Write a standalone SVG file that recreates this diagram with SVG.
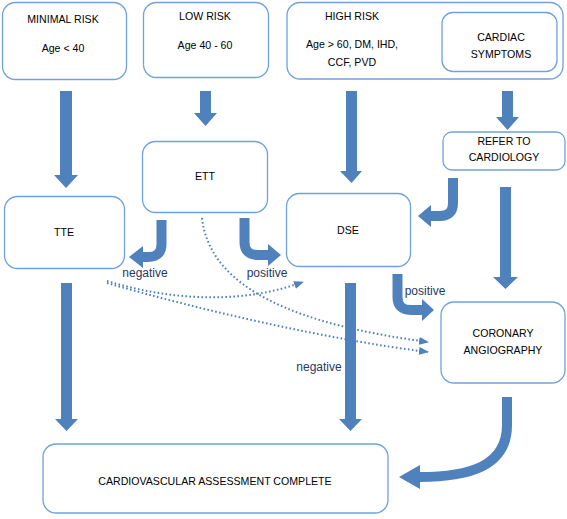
<svg xmlns="http://www.w3.org/2000/svg" width="567" height="519" viewBox="0 0 567 519">
<defs>
<style>
.box{fill:#ffffff;stroke:#6fa2dc;stroke-width:1.3}
.t{font-family:"Liberation Sans",Arial,sans-serif;font-size:10.6px;fill:#000;text-anchor:middle}
.lbl{font-family:"Liberation Sans",Arial,sans-serif;font-size:12px;fill:#1f3864;text-anchor:middle}
.arr{fill:#4f81bd}
.bend{fill:none;stroke:#4f81bd;stroke-width:10}
.dot{fill:none;stroke:#4f81bd;stroke-width:2;stroke-dasharray:1.6 2.4;marker-end:url(#ah)}
</style>
<marker id="ah" markerUnits="userSpaceOnUse" markerWidth="10" markerHeight="8" refX="9" refY="4" orient="auto">
<path d="M0,0 L10,4 L0,8 z" fill="#4f81bd"/>
</marker>
</defs>
<rect width="567" height="519" fill="#ffffff"/>

<g id="connectors">
<polygon class="arr" points="60,91 72,91 72,175 78,175 66,188 54,175 60,175"/>
<polygon class="arr" points="200,91 211,91 211,113 217,113 205.5,126 194,113 200,113"/>
<polygon class="arr" points="346,91 357,91 357,171 362,171 351.5,183 340,171 346,171"/>
<polygon class="arr" points="502,91 513,91 513,117 519,117 507.5,130 496,117 502,117"/>
<polygon class="arr" points="500,187 511,187 511,277 518,277 505.5,289 493,277 500,277"/>
<polygon class="arr" points="61,283 72,283 72,419 78,419 66.5,431 55,419 61,419"/>
<polygon class="arr" points="345,283 356,283 356,419 362,419 350.5,431 339,419 345,419"/>

<path class="bend" d="M161.5,220 L161.5,244 Q161.5,257 148,257 L143,257"/>
<polygon class="arr" points="143,246 129,257 143,268"/>
<path class="bend" d="M244.5,218 L244.5,242 Q244.5,255 258,255 L269,255"/>
<polygon class="arr" points="268,244 281,255 268,266"/>
<path class="bend" d="M453,178 L453,203 Q453,216 440,216 L431,216"/>
<polygon class="arr" points="431,205 418,216 431,227"/>
<path class="bend" d="M397.5,274 L397.5,297 Q397.5,310 411,310 L422,310"/>
<polygon class="arr" points="422,299 434,310 422,321"/>
<path class="bend" d="M507,397 L507,425 C507,466 470,477 419,477"/>
<polygon class="arr" points="420,465 399,477 420,489"/>

<path class="dot" d="M107,281 C170,300 240,305 303,282"/>
<path class="dot" d="M107,283 C200,310 330,340 428,352"/>
<path class="dot" d="M202,218 C210,290 300,325 428,342"/>

<text class="lbl" x="145" y="277">negative</text>
<text class="lbl" x="267" y="277">positive</text>
<text class="lbl" x="425" y="295">positive</text>
<text class="lbl" x="319" y="371">negative</text>
</g>

<g id="minimal">
<rect class="box" x="2.5" y="2.5" width="124" height="77" rx="13"/>
<text class="t" x="63" y="23">MINIMAL RISK</text>
<text class="t" x="63" y="52">Age &lt; 40</text>
</g>
<g id="low">
<rect class="box" x="143.5" y="2.5" width="125" height="75" rx="13"/>
<text class="t" x="205" y="20">LOW RISK</text>
<text class="t" x="205" y="49">Age 40 - 60</text>
</g>
<g id="high">
<rect class="box" x="287" y="2.5" width="276" height="76.5" rx="13"/>
<text class="t" x="352" y="20">HIGH RISK</text>
<text class="t" x="352" y="48">Age &gt; 60, DM, IHD,</text>
<text class="t" x="352" y="66">CCF, PVD</text>
</g>
<g id="cardiac">
<rect class="box" x="442" y="12.5" width="115" height="59" rx="11"/>
<text class="t" x="501" y="41">CARDIAC</text>
<text class="t" x="501" y="58">SYMPTOMS</text>
</g>
<g id="ett">
<rect class="box" x="142.5" y="141.5" width="125" height="71" rx="13"/>
<text class="t" x="205" y="180">ETT</text>
</g>
<g id="tte">
<rect class="box" x="4.5" y="196.5" width="120" height="72" rx="13"/>
<text class="t" x="64" y="236">TTE</text>
</g>
<g id="dse">
<rect class="box" x="286.5" y="193.5" width="124" height="73" rx="13"/>
<text class="t" x="348" y="234">DSE</text>
</g>
<g id="refer">
<rect class="box" x="443" y="132" width="122" height="38" rx="9"/>
<text class="t" x="504" y="145">REFER TO</text>
<text class="t" x="504" y="161">CARDIOLOGY</text>
</g>
<g id="coronary">
<rect class="box" x="441" y="302" width="124" height="81" rx="13"/>
<text class="t" x="503" y="337">CORONARY</text>
<text class="t" x="503" y="354">ANGIOGRAPHY</text>
</g>
<g id="complete">
<rect class="box" x="43" y="444" width="345" height="69" rx="13"/>
<text class="t" x="215" y="485">CARDIOVASCULAR ASSESSMENT COMPLETE</text>
</g>
</svg>
